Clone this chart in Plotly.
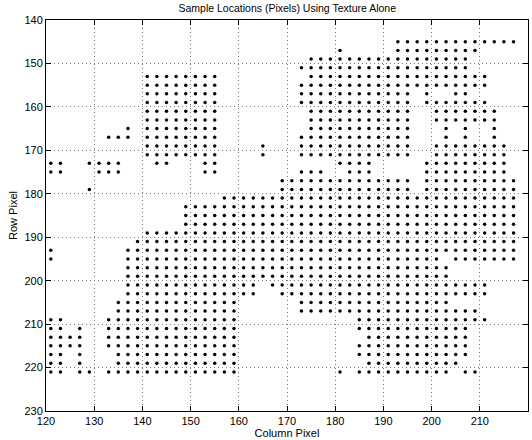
import plotly.graph_objects as go

# Column pixel values of the sampling grid (odd columns 121..219)
col_x = [121, 123, 125, 127, 129, 131, 133, 135, 137, 139,
         141, 143, 145, 147, 149, 151, 153, 155, 157, 159,
         161, 163, 165, 167, 169, 171, 173, 175, 177, 179,
         181, 183, 185, 187, 189, 191, 193, 195, 197, 199,
         201, 203, 205, 207, 209, 211, 213, 215, 217, 219]

# Row pixel values of the sampling grid
row_y = [145, 147, 149, 151, 153, 155, 157, 159, 161, 163,
         165, 167, 169, 171, 173, 175, 177, 179, 181, 183,
         185, 187, 189, 191, 193, 195, 197, 199, 201, 203,
         205, 207, 209, 211, 213, 215, 217, 219, 221]

# Occupancy of each row ('#' = sample location), columns in groups of ten
row_masks = [
    ".......... .......... .......... ......#### #########.",  # 145
    ".......... .......... .......... #.....#### #####.....",  # 147
    ".......... .......... .......### ########## ####......",  # 149
    ".......... .......... ......#### ########## ####......",  # 151
    ".......... ########.. .......### ########## ######....",  # 153
    ".......... ########.. ......#### ########## ######....",  # 155
    ".......... ########.. ......#### ########.# ..##......",  # 157
    ".......... ########.. ......#### ########.# ######....",  # 159
    ".......... ########.. .......### ########.. #######...",  # 161
    ".......... ########.. .......### ########.. #######...",  # 163
    "........#. ########.. .......### ########.. .#.#..#...",  # 165
    "......###. ########.. ......#### ########.. .#.#..#...",  # 167
    ".......... ########.. ..#...#### ########.. ########..",  # 169
    ".......... ########.. ..#...#### ########.. ########..",  # 171
    "##..####.. .##...##.. .......... ####.....# ########..",  # 173
    "##...###.. ......##.. ......###. .###.....# ########..",  # 175
    ".......... .......... ....###### ########.# #########.",  # 177
    "....#..... .......... ....###### ########.# #########.",  # 179
    ".......... ........## ########## ########## #########.",  # 181
    ".......... ....###### ########## ########## #########.",  # 183
    ".......... ....###### ########## ########## #########.",  # 185
    ".......... ....###### ########## ########## #########.",  # 187
    ".......... ########## ########## ########## #########.",  # 189
    ".........# ########## ########## ########## #########.",  # 191
    "#.......## ########## ########## ########## #########.",  # 193
    "#.......## ########## ########## ########## #.#######.",  # 195
    "........## ########## ########## ########## ##........",  # 197
    "........## ########## ########## ########## ##........",  # 199
    "........## ########## ##.####### ########## ######....",  # 201
    "........## ########## ##..###### ########## ######....",  # 203
    ".......### ########## ......#### ########## ##........",  # 205
    ".......### ########## ......#### ########## #####.....",  # 207
    "##....#### ########## .......... ..######## ######....",  # 209
    "##.#..#### ########## .......... ..######## ####......",  # 211
    "####..#### ########## .......... ...####### ####......",  # 213
    "####..#### ########## .......... ..######## ####......",  # 215
    "##.#...### ########## .......... ..######## ####......",  # 217
    "##.#...### ########## .......... ...####### ###.......",  # 219
    "##.##.#### ########## .......... #.######## ##.##.....",  # 221
]

x_ticks = [120, 130, 140, 150, 160, 170, 180, 190, 200, 210, 220]
y_ticks = [140, 150, 160, 170, 180, 190, 200, 210, 220, 230]

xs, ys = [], []
for yv, mask in zip(row_y, row_masks):
    cells = mask.replace(" ", "")
    for xv, c in zip(col_x, cells):
        if c == "#":
            xs.append(xv)
            ys.append(yv)

fig = go.Figure()
fig.add_trace(go.Scatter(
    x=xs, y=ys, mode="markers",
    marker=dict(color="black", size=3.5, line=dict(width=0)),
    hoverinfo="skip", showlegend=False,
))

font = "Liberation Sans, Arial, Helvetica, sans-serif"
axis_common = dict(
    showline=True, linecolor="black", linewidth=1, mirror="allticks",
    ticks="inside", ticklen=5, tickcolor="black", tickwidth=1,
    showgrid=True, gridcolor="#777777", gridwidth=1, griddash="1px,3px",
    zeroline=False, tickfont=dict(family=font, size=11, color="black"),
)

fig.update_layout(
    width=532, height=440,
    margin=dict(l=46, r=4, t=20, b=29),
    paper_bgcolor="white", plot_bgcolor="white",
    title=dict(text="Sample Locations (Pixels) Using Texture Alone",
               x=0.54, xanchor="center", y=0.99, yanchor="top",
               font=dict(family=font, size=10.5, color="black")),
    xaxis=dict(range=[120, 220], tickvals=x_ticks,
               title=dict(text="Column Pixel", standoff=2,
                          font=dict(family=font, size=11, color="black")),
               **axis_common),
    yaxis=dict(range=[230, 140], tickvals=y_ticks,
               title=dict(text="Row Pixel", standoff=4,
                          font=dict(family=font, size=11, color="black")),
               **axis_common),
)

fig.write_html("out.html")
